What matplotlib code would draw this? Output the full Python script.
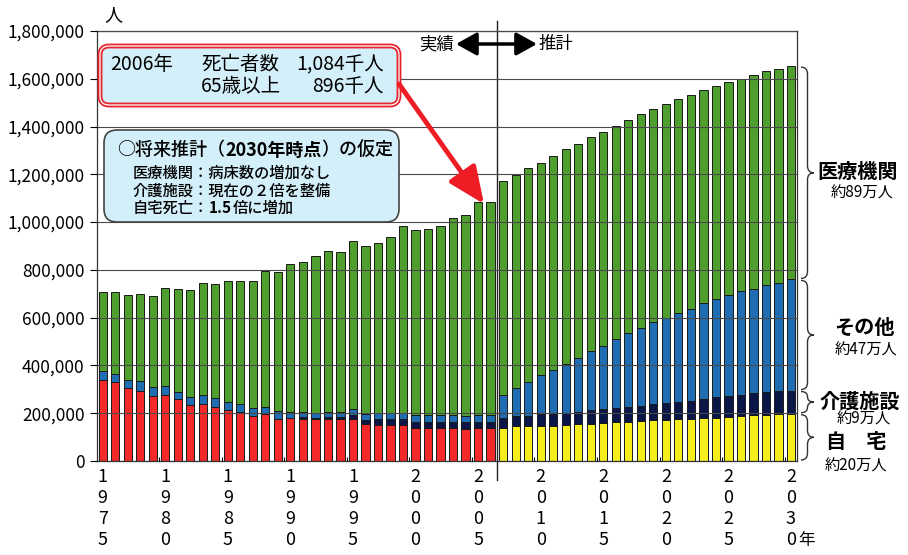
import numpy as np
import matplotlib
matplotlib.use("Agg")
import matplotlib.pyplot as plt
from matplotlib.patches import FancyBboxPatch, FancyArrowPatch, PathPatch
from matplotlib.path import Path
from matplotlib.ticker import FuncFormatter, FixedLocator

plt.rcParams['font.family'] = ['Noto Sans CJK JP', 'DejaVu Sans']

years = list(range(1975, 2031))

# --- 実績 1975-2006 (千人) ---
home_hist = [338, 329, 305, 295, 272, 277, 258, 233, 239, 227, 213, 205, 189, 196, 177, 182,
             177, 174, 177, 177, 176, 155, 150, 150, 150, 137, 137, 137, 137, 135, 137, 137]
fac_hist = [0, 0, 0, 0, 0, 0, 0, 0, 0, 0, 0, 0, 0, 0, 0, 0,
            6, 6, 6, 6, 16, 16, 25, 25, 25, 27, 27, 27, 27, 27, 27, 27]
other_hist = [39, 37, 36, 38, 36, 36, 32, 33, 37, 35, 35, 32, 34, 31, 32, 24,
              22, 22, 22, 22, 24, 25, 25, 25, 25, 27, 27, 27, 27, 27, 27, 27]
hosp_hist = [330, 341, 352, 364, 382, 411, 430, 450, 468, 481, 504, 515, 529, 570, 582, 619,
             630, 655, 676, 671, 706, 705, 714, 737, 785, 774, 779, 794, 826, 842, 893, 893]

# --- 推計 2007-2030 (千人) ---
home_proj = [139, 145, 145, 148, 148, 150, 153, 156, 159, 162, 164, 166,
             170, 171, 174, 177, 180, 182, 185, 188, 191, 194, 196, 198]
fac_proj = [41, 42, 44, 47, 50, 52, 54, 56, 57, 59, 63, 65,
            67, 71, 75, 76, 80, 84, 87, 89, 92, 93, 95, 97]
other_proj = [98, 119, 141, 163, 185, 206, 226, 249, 267, 290, 309, 327,
              344, 358, 371, 385, 401, 411, 421, 433, 438, 451, 455, 465]
hosp_proj = [894, 891, 896, 889, 893, 897, 893, 895, 894, 891, 891, 894,
             892, 894, 895, 893, 891, 892, 893, 888, 894, 894, 894, 893]

right_labels = [("医療機関", "約89万人"), ("その他", "約47万人"),
                ("介護施設", "約9万人"), ("自　宅", "約20万人")]

RED, YELLOW = '#f42a2a', '#f5ee1c'
NAVY, BLUE, GREEN = '#0b1648', '#1f6db3', '#4e9f2d'
BOXFILL = '#d3eff9'

home = np.array(home_hist + home_proj) * 1000
fac = np.array(fac_hist + fac_proj) * 1000
other = np.array(other_hist + other_proj) * 1000
hosp = np.array(hosp_hist + hosp_proj) * 1000
x = np.arange(len(years))
nh = len(home_hist)

fig = plt.figure(figsize=(9.08, 5.55), dpi=100)
ax = fig.add_axes([97 / 908, 1 - 461 / 555, 700 / 908, 430 / 555])

w = 0.66
ec = dict(edgecolor='#1a1a1a', linewidth=0.7)
home_col = [RED] * nh + [YELLOW] * (len(years) - nh)
ax.bar(x, home, w, color=home_col, **ec)
ax.bar(x, fac, w, bottom=home, color=NAVY, **ec)
ax.bar(x, other, w, bottom=home + fac, color=BLUE, **ec)
ax.bar(x, hosp, w, bottom=home + fac + other, color=GREEN, **ec)

ax.set_xlim(-0.45, len(years) - 1 + 0.48)
ax.set_ylim(0, 1800000)
ax.set_yticks(np.arange(0, 1800001, 200000))
ax.yaxis.set_major_formatter(FuncFormatter(lambda v, p: f"{int(v):,}"))
ax.yaxis.grid(True, color='#4a4a4a', lw=0.8)
ax.set_axisbelow(False)
ax.tick_params(axis='y', labelsize=12.5, length=5, width=0.8, pad=4)

ticks = [i for i, y in enumerate(years) if y % 5 == 0]
ax.set_xticks(ticks)
ax.set_xticklabels(["\n".join(str(years[i])) for i in ticks], fontsize=13, linespacing=1.22)
ax.tick_params(axis='x', length=0, pad=5)
ax.xaxis.set_minor_locator(FixedLocator([i + 4.5 for i in ticks[:-1]]))
ax.tick_params(axis='x', which='minor', direction='in', length=3, width=0.8)
for s in ax.spines.values():
    s.set_color('#333')
    s.set_linewidth(0.9)

# 実績/推計 boundary
ax.plot([nh - 0.5, nh - 0.5], [-80000, 1840000], color='#222', lw=1, clip_on=False)

# overlay in pixel coordinates
ov = fig.add_axes([0, 0, 1, 1], zorder=5)
ov.set_xlim(0, 908)
ov.set_ylim(555, 0)
ov.axis('off')
ov.patch.set_alpha(0)


def py(v):
    return 555 - ax.transData.transform((0, v))[1]


ov.text(798, 541, "年", fontsize=12, va='center', ha='left')
ov.text(113, 15, "人", fontsize=13, va='center', ha='center')

# box 1
for lw_, c_ in [(3.5, '#e5262e'), (0.9, 'white')]:
    ov.add_patch(FancyBboxPatch((100, 46), 299, 59, boxstyle="round,pad=0,rounding_size=9",
                                fc=BOXFILL if c_ != 'white' else 'none', ec=c_, lw=lw_))
ov.text(110, 65, "2006年", fontsize=14, va='center', ha='left')
ov.text(201, 65, "死亡者数", fontsize=14, va='center', ha='left')
ov.text(384, 65, "1,084千人", fontsize=14, va='center', ha='right')
ov.text(201, 87, "65歳以上", fontsize=14, va='center', ha='left')
ov.text(384, 87, "896千人", fontsize=14, va='center', ha='right')

# box 2
ov.add_patch(FancyBboxPatch((104, 130), 295, 92, boxstyle="round,pad=0,rounding_size=13",
                            fc=BOXFILL, ec='#444', lw=1.2))
renderer = fig.canvas.get_renderer()


def runs(x0, y0, parts, size):
    for s, wt in parts:
        t = ov.text(x0, y0, s, fontsize=size, fontweight=wt, va='center', ha='left')
        x0 += t.get_window_extent(renderer=renderer).width


runs(117, 150, [("○将来推計（", 'medium'), ("2030年時点", 'bold'), ("）の仮定", 'medium')], 13)
runs(133, 173, [("医療機関：病床数の増加なし", 'medium')], 11)
runs(133, 191, [("介護施設：現在の２倍を整備", 'medium')], 11)
runs(133, 208, [("自宅死亡：", 'medium'), ("1.5", 'bold'), ("倍に増加", 'medium')], 11)

# red arrow
ov.add_patch(FancyArrowPatch((399, 84), (484, 204), arrowstyle='-|>,head_length=1.6,head_width=0.7',
                             mutation_scale=14, color='#ee1c25', lw=3.5, shrinkA=0, shrinkB=0))

# 実績 <-> 推計
ov.text(436, 44, "実績", fontsize=12.5, va='center', ha='center')
ov.text(556, 44, "推計", fontsize=12.5, va='center', ha='center')
ov.add_patch(FancyArrowPatch((456, 44), (537, 44), arrowstyle='<|-|>,head_length=0.9,head_width=0.5',
                             mutation_scale=14, color='black', lw=2.5, shrinkA=0, shrinkB=0))


def brace(yt, yb, x0=801, bw=13):
    ym = (yt + yb) / 2
    xm = x0 + bw / 2
    r = min(7, (yb - yt) / 4)
    verts = [(x0, yt), (xm, yt), (xm, yt + r), (xm, ym - r), (xm, ym), (x0 + bw, ym),
             (xm, ym), (xm, ym + r), (xm, yb - r), (xm, yb), (x0, yb)]
    codes = [Path.MOVETO, Path.CURVE3, Path.CURVE3, Path.LINETO, Path.CURVE3, Path.CURVE3,
             Path.CURVE3, Path.CURVE3, Path.LINETO, Path.CURVE3, Path.CURVE3]
    ov.add_patch(PathPatch(Path(verts, codes), fill=False, ec='#333', lw=1.0))


last = len(years) - 1
lv = [home[last] + fac[last] + other[last] + hosp[last], home[last] + fac[last] + other[last],
      home[last] + fac[last], home[last], 0]
for k in range(4):
    brace(py(lv[k]) + 1, py(lv[k + 1]) - 1)

label_pos = [(858, 171, 862, 193), (864, 327, 866, 350), (860, 401, 864, 419), (856, 441, 856, 466)]
for (name, val), (xa, ya, xb, yb) in zip(right_labels, label_pos):
    ov.text(xa, ya, name, fontsize=14.5, fontweight='bold', va='center', ha='center')
    ov.text(xb, yb, val, fontsize=11, va='center', ha='center')

fig.savefig("out.png", dpi=100)
